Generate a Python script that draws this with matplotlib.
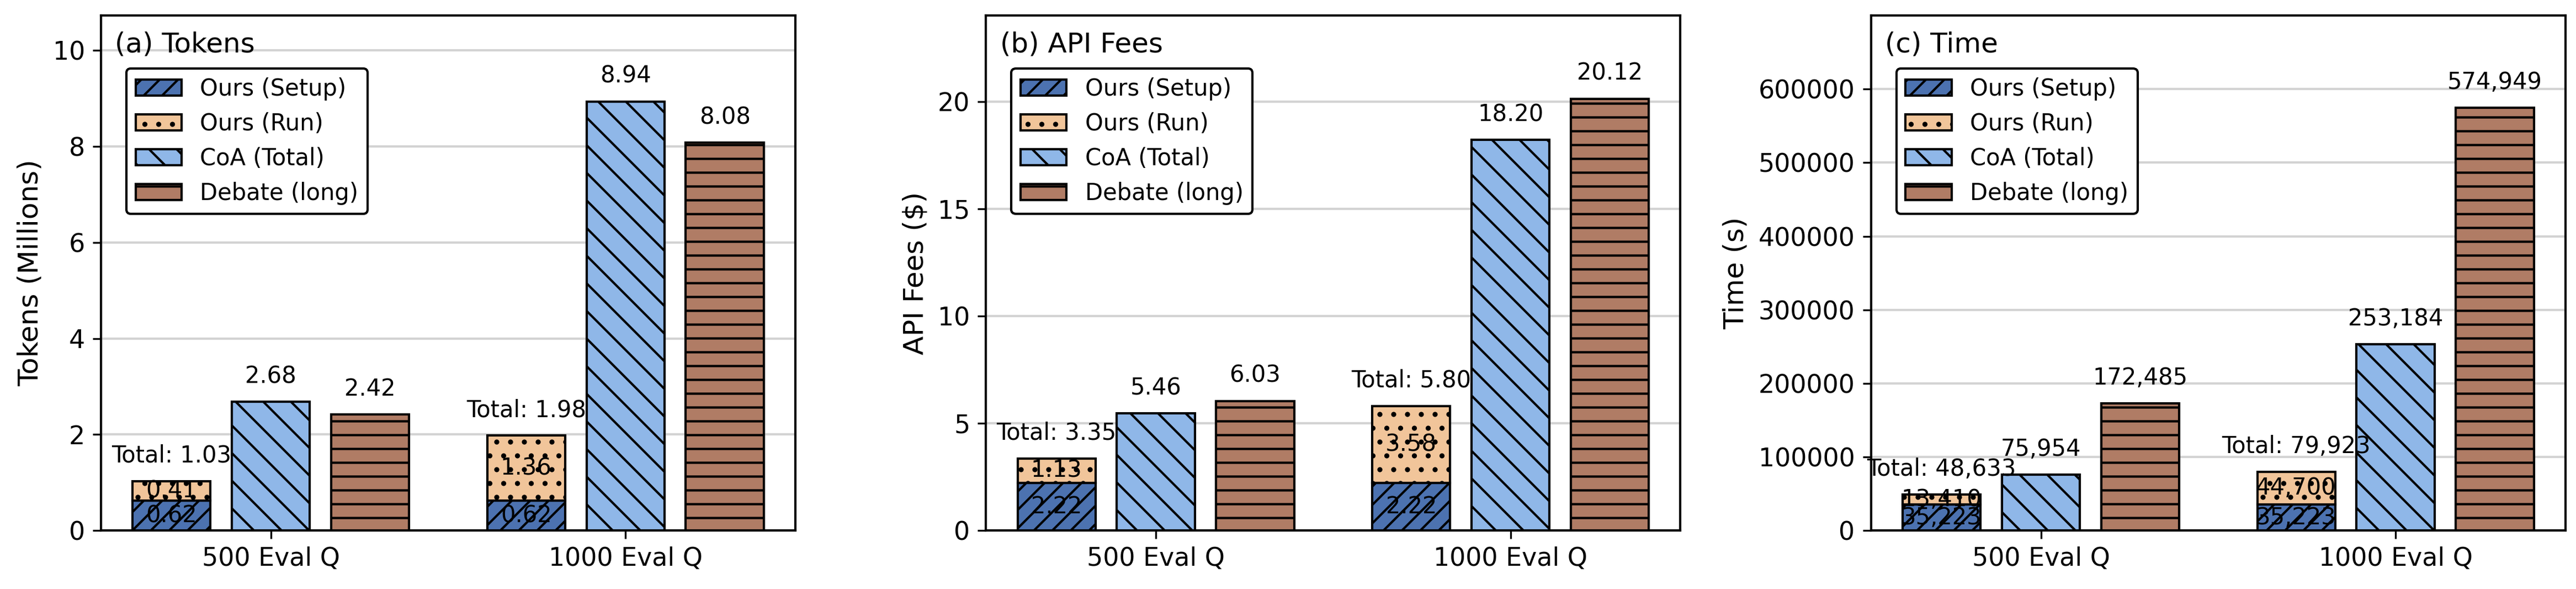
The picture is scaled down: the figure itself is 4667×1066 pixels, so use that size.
import matplotlib
matplotlib.use('Agg')
import matplotlib.pyplot as plt
import numpy as np

groups = ['500 Eval Q', '1000 Eval Q']
series_names = ['Ours (Setup)', 'Ours (Run)', 'CoA (Total)', 'Debate (long)']

tokens_setup = [0.62, 0.62]
tokens_run = [0.41, 1.36]
tokens_coa = [2.68, 8.94]
tokens_debate = [2.42, 8.08]

fees_setup = [2.22, 2.22]
fees_run = [1.13, 3.58]
fees_coa = [5.46, 18.20]
fees_debate = [6.03, 20.12]

time_setup = [35223, 35223]
time_run = [13410, 44700]
time_coa = [75954, 253184]
time_debate = [172485, 574949]

panel_titles = ['(a) Tokens', '(b) API Fees', '(c) Time']
y_labels = ['Tokens (Millions)', 'API Fees ($)', 'Time (s)']

colors = ['#4C72B0', '#F1C59A', '#8FB7E8', '#B07C65']
hatches = ['///', '..', '\\\\', '--']

plt.rcParams['hatch.linewidth'] = 1.0

fig = plt.figure(figsize=(4667 / 300, 1066 / 300), dpi=300)
fig.subplots_adjust(left=0.0392, right=0.9959, bottom=0.0994, top=0.9735, wspace=0.2745)
axes = fig.subplots(1, 3)

fmt2 = lambda v: f'{v:.2f}'
fmtc = lambda v: f'{v:,.0f}'

panels = [
    (tokens_setup, tokens_run, tokens_coa, tokens_debate, fmt2, 8.94 * 1.2, [0, 2, 4, 6, 8, 10]),
    (fees_setup, fees_run, fees_coa, fees_debate, fmt2, 24.0, [0, 5, 10, 15, 20]),
    (time_setup, time_run, time_coa, time_debate, fmtc, 700000, [0, 100000, 200000, 300000, 400000, 500000, 600000]),
]

x = np.arange(len(groups))
w = 0.22
off = 0.28

for i, (ax, (setup, run, coa, deb, fmt, ymax, yt)) in enumerate(zip(axes, panels)):
    setup = np.array(setup, dtype=float)
    run = np.array(run, dtype=float)
    kw = dict(edgecolor='black', linewidth=1.0, zorder=3)
    ax.bar(x - off, setup, w, color=colors[0], hatch=hatches[0], label=series_names[0], **kw)
    ax.bar(x - off, run, w, bottom=setup, color=colors[1], hatch=hatches[1], label=series_names[1], **kw)
    ax.bar(x, coa, w, color=colors[2], hatch=hatches[2], label=series_names[2], **kw)
    ax.bar(x + off, deb, w, color=colors[3], hatch=hatches[3], label=series_names[3], **kw)

    for j in range(len(groups)):
        s, r = setup[j], run[j]
        ax.text(x[j] - off, s / 2, fmt(s), ha='center', va='center', fontsize=10, zorder=5)
        ax.text(x[j] - off, s + r / 2, fmt(r), ha='center', va='center', fontsize=10, zorder=5)
        ax.annotate(f'Total: {fmt(s + r)}', (x[j] - off, s + r), xytext=(0, 6),
                    textcoords='offset points', ha='center', va='bottom', fontsize=10)
        ax.annotate(fmt(coa[j]), (x[j], coa[j]), xytext=(0, 6),
                    textcoords='offset points', ha='center', va='bottom', fontsize=10)
        ax.annotate(fmt(deb[j]), (x[j] + off, deb[j]), xytext=(0, 6),
                    textcoords='offset points', ha='center', va='bottom', fontsize=10)

    ax.set_ylim(0, ymax)
    ax.set_yticks(yt)
    ax.set_xticks(x)
    ax.set_xticklabels(groups, fontsize=11)
    ax.tick_params(axis='y', labelsize=11)
    ax.set_ylabel(y_labels[i], fontsize=12)
    ax.yaxis.grid(True, color='#d3d3d3', linewidth=1.0)
    ax.set_axisbelow(True)
    for sp in ax.spines.values():
        sp.set_linewidth(1.0)
    ax.text(0.02, 0.97, panel_titles[i], transform=ax.transAxes, ha='left', va='top', fontsize=12)
    leg = ax.legend(loc='upper left', bbox_to_anchor=(0.02, 0.92), fontsize=10,
                    edgecolor='black', framealpha=1.0)
    leg.get_frame().set_linewidth(1.0)

fig.savefig('out.png', dpi=300)
